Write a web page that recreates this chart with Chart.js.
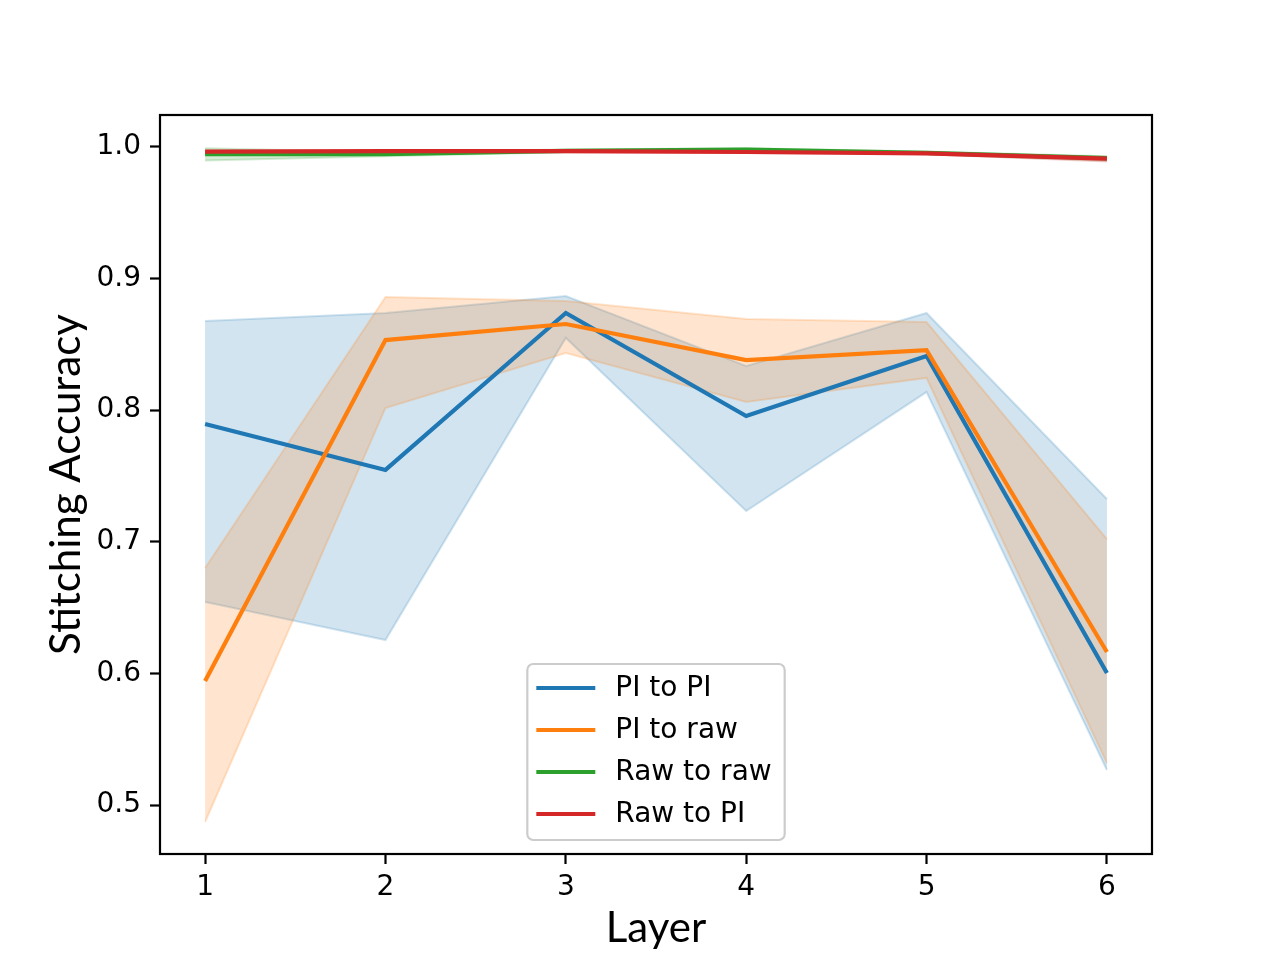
<!DOCTYPE html>
<html>
<head>
<meta charset="utf-8">
<script src="https://cdn.jsdelivr.net/npm/chart.js@4/dist/chart.umd.min.js"></script>
<style>
html,body{margin:0;padding:0;background:#fff;}
#c{display:block;}
</style>
</head>
<body>
<canvas id="c" width="1280" height="960"></canvas>
<script>
const layers = [1, 2, 3, 4, 5, 6];
const yTicks = [0.5, 0.6, 0.7, 0.8, 0.9, 1.0];
const seriesNames = ["PI to PI", "PI to raw", "Raw to raw", "Raw to PI"];

const piToPi      = [0.7895, 0.7546, 0.8739, 0.7956, 0.8412, 0.6003];
const piToPiLow   = [0.6543, 0.6254, 0.8549, 0.7234, 0.8138, 0.5266];
const piToPiHigh  = [0.8678, 0.8739, 0.8868, 0.8336, 0.8739, 0.7325];

const piToRaw     = [0.5942, 0.8533, 0.8655, 0.8381, 0.8457, 0.6163];
const piToRawLow  = [0.4871, 0.8017, 0.8435, 0.8062, 0.8245, 0.5319];
const piToRawHigh = [0.6801, 0.8860, 0.8830, 0.8693, 0.8670, 0.7021];

const rawToRaw     = [0.9945, 0.9945, 0.9970, 0.9980, 0.9955, 0.9915];
const rawToRawLow  = [0.9897, 0.9930, 0.9960, 0.9970, 0.9945, 0.9895];
const rawToRawHigh = [0.9990, 0.9960, 0.9980, 0.9990, 0.9965, 0.9930];

const rawToPi     = [0.9964, 0.9968, 0.9968, 0.9962, 0.9952, 0.9912];
const rawToPiLow  = [0.9955, 0.9960, 0.9960, 0.9955, 0.9945, 0.9890];
const rawToPiHigh = [0.9972, 0.9975, 0.9975, 0.9970, 0.9960, 0.9925];

const colors = ["#1f77b4", "#ff7f0e", "#2ca02c", "#d62728"];
const bandColors = ["rgba(31,119,180,0.2)", "rgba(255,127,14,0.2)", "rgba(44,160,44,0.2)", "rgba(214,39,40,0.2)"];

const means = [piToPi, piToRaw, rawToRaw, rawToPi];
const lows = [piToPiLow, piToRawLow, rawToRawLow, rawToPiLow];
const highs = [piToPiHigh, piToRawHigh, rawToRawHigh, rawToPiHigh];

function pts(arr){ return layers.map((x,i)=>({x:x, y:arr[i]})); }

const datasets = [];
// lines first (indices 0..3)
for (let s=0; s<4; s++){
  datasets.push({
    label: seriesNames[s], data: pts(means[s]), borderColor: colors[s], backgroundColor: colors[s],
    borderWidth: 4.2, pointRadius: 0, fill: false, tension: 0, order: 4 - s,
    borderCapStyle: 'butt', borderJoinStyle: 'miter'
  });
}
// bands (blue drawn first, so highest order)
for (let s=0; s<4; s++){
  const lowIdx = datasets.length + 1;
  datasets.push({
    label: seriesNames[s] + " upper", data: pts(highs[s]), borderColor: bandColors[s], backgroundColor: bandColors[s],
    borderWidth: 2, pointRadius: 0, fill: {target: lowIdx}, tension: 0, order: 40 - 2 * s
  });
  datasets.push({
    label: seriesNames[s] + " lower", data: pts(lows[s]), borderColor: bandColors[s], backgroundColor: bandColors[s],
    borderWidth: 2, pointRadius: 0, fill: false, tension: 0, order: 39 - 2 * s
  });
}

const framePlugin = {
  id: 'frame',
  afterDraw(chart){
    const {ctx, chartArea:a} = chart;
    ctx.save();
    ctx.strokeStyle = '#000';
    ctx.lineWidth = 2.2;
    ctx.strokeRect(a.left, a.top, a.right - a.left, a.bottom - a.top);
    ctx.restore();
  }
};

const legendPlugin = {
  id: 'mplLegend',
  afterDraw(chart){
    const {ctx, chartArea:a} = chart;
    ctx.save();
    ctx.font = '28px "DejaVu Sans"';
    let maxW = 0;
    seriesNames.forEach(n => { maxW = Math.max(maxW, ctx.measureText(n).width); });
    const padL = 9, handle = 59, gap = 20, padR = 13, rowH = 42, padT = 24;
    const w = padL + handle + gap + maxW + padR;
    const h = padT + rowH * (seriesNames.length - 1) + 26;
    const cx = (a.left + a.right) / 2;
    const x0 = cx - w / 2;
    const y1 = a.bottom - 14;
    const y0 = y1 - h;
    const r = 6;
    ctx.beginPath();
    ctx.moveTo(x0 + r, y0);
    ctx.arcTo(x0 + w, y0, x0 + w, y1, r);
    ctx.arcTo(x0 + w, y1, x0, y1, r);
    ctx.arcTo(x0, y1, x0, y0, r);
    ctx.arcTo(x0, y0, x0 + w, y0, r);
    ctx.closePath();
    ctx.fillStyle = 'rgba(255,255,255,0.8)';
    ctx.fill();
    ctx.strokeStyle = '#cccccc';
    ctx.lineWidth = 2.2;
    ctx.stroke();
    seriesNames.forEach((n, i) => {
      const y = y0 + padT + rowH * i;
      ctx.beginPath();
      ctx.moveTo(x0 + padL, y);
      ctx.lineTo(x0 + padL + handle, y);
      ctx.strokeStyle = colors[i];
      ctx.lineWidth = 4.2;
      ctx.stroke();
      ctx.fillStyle = '#000';
      ctx.textBaseline = 'middle';
      ctx.textAlign = 'left';
      ctx.fillText(n, x0 + padL + handle + gap, y + 1);
    });
    ctx.restore();
  }
};

new Chart(document.getElementById('c'), {
  type: 'line',
  data: { datasets },
  options: {
    responsive: false,
    animation: false,
    devicePixelRatio: 1,
    layout: { padding: { top: 115, right: 128, left: 0, bottom: 0 } },
    plugins: { legend: { display: false }, tooltip: { enabled: false } },
    scales: {
      x: {
        type: 'linear', min: 0.75, max: 6.25,
        afterBuildTicks(scale){ scale.ticks = layers.map(v => ({value: v})); },
        afterFit(scale){ scale.height = 106; },
        grid: { drawOnChartArea: false, drawTicks: true, tickLength: 10, tickWidth: 2.2, color: '#000' },
        border: { display: false },
        ticks: { color: '#000', font: { family: 'DejaVu Sans', size: 28 }, padding: 7, maxRotation: 0,
                 callback: v => String(v) },
        title: { display: true, text: 'Layer', color: '#000', font: { family: 'Lato', size: 42 }, padding: { top: 0, bottom: 6 } }
      },
      y: {
        type: 'linear', min: 0.4628, max: 1.0243,
        afterBuildTicks(scale){ scale.ticks = yTicks.map(v => ({value: v})); },
        afterFit(scale){ scale.width = 160; },
        grid: { drawOnChartArea: false, drawTicks: true, tickLength: 10, tickWidth: 2.2, color: '#000' },
        border: { display: false },
        ticks: { color: '#000', font: { family: 'DejaVu Sans', size: 28 }, padding: 9,
                 callback: v => Number(v).toFixed(1) },
        title: { display: true, text: 'Stitching Accuracy', color: '#000', font: { family: 'Lato', size: 42 }, padding: { top: 41, bottom: 0 } }
      }
    }
  },
  plugins: [framePlugin, legendPlugin]
});
</script>
</body>
</html>
